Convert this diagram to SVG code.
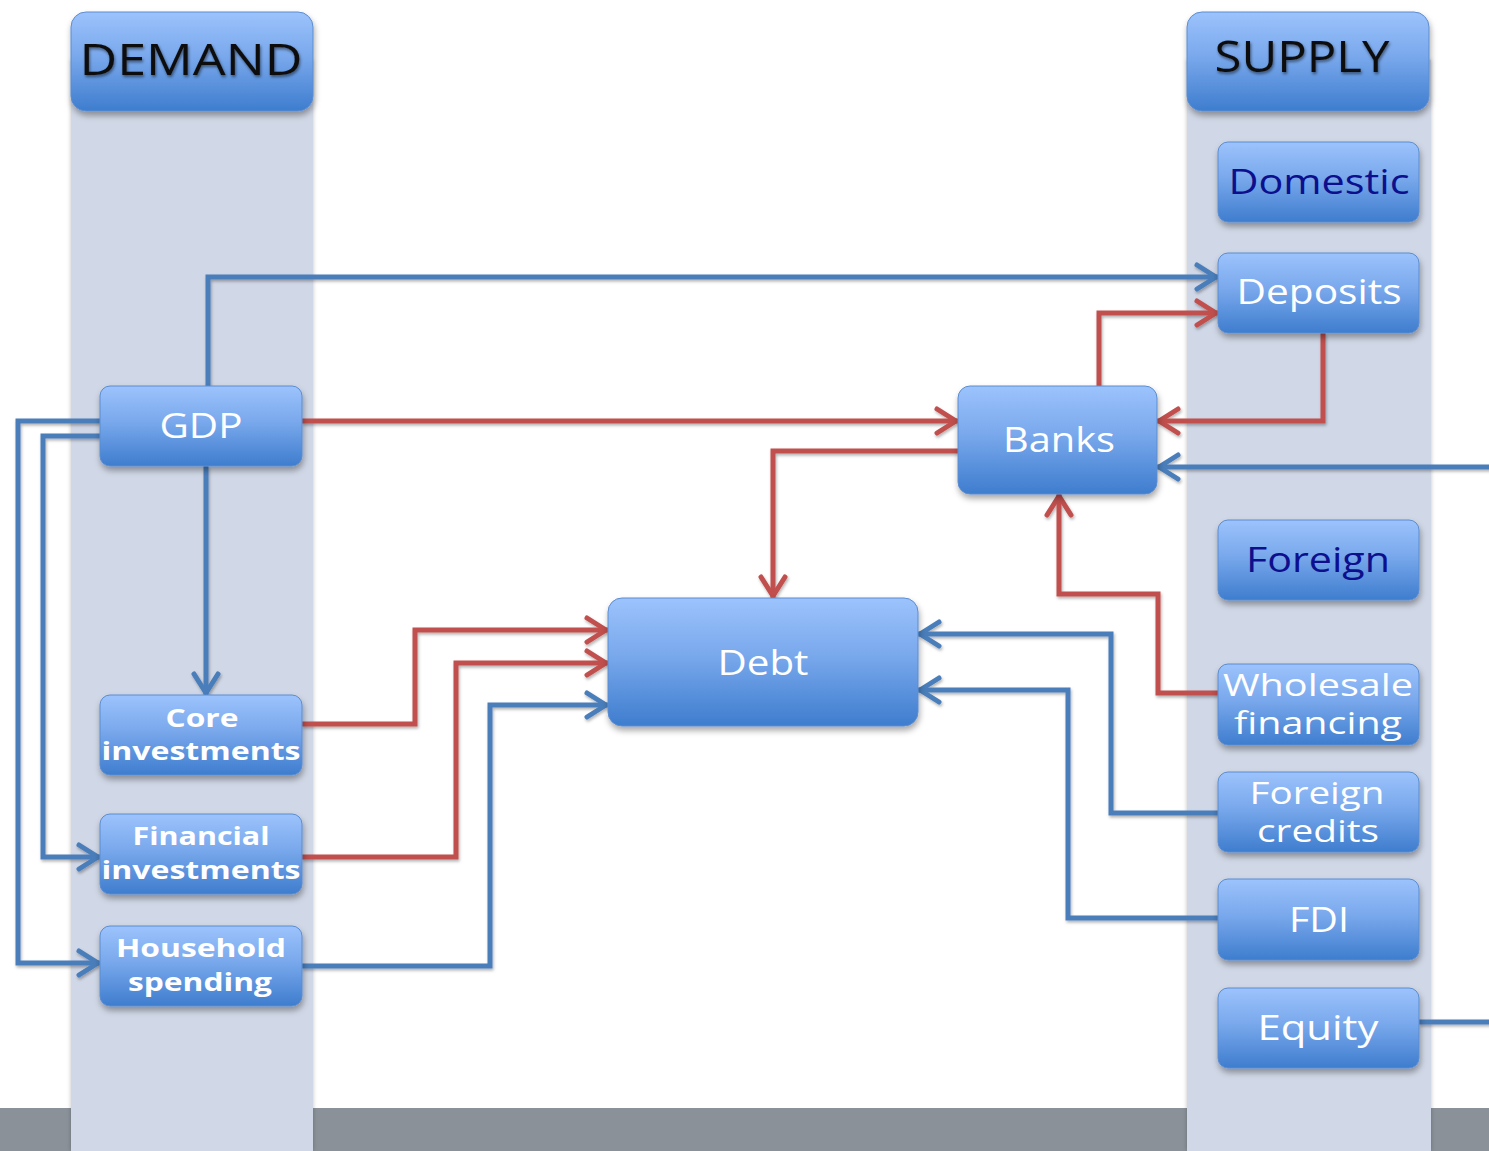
<svg xmlns="http://www.w3.org/2000/svg" width="1489" height="1151" viewBox="0 0 1489 1151">
<defs>
<linearGradient id="g" x1="0" y1="0" x2="0" y2="1">
<stop offset="0" stop-color="#9cc3fc"/>
<stop offset="0.45" stop-color="#79a8ec"/>
<stop offset="1" stop-color="#3e7dce"/>
</linearGradient>
<filter id="sh" x="-10%" y="-10%" width="130%" height="140%">
<feDropShadow dx="1" dy="4" stdDeviation="3" flood-color="#000" flood-opacity="0.35"/>
</filter>
<filter id="lsh" x="-5%" y="-5%" width="110%" height="110%">
<feDropShadow dx="1" dy="2" stdDeviation="1.5" flood-color="#000" flood-opacity="0.3"/>
</filter>
<filter id="tsh" x="-10%" y="-20%" width="120%" height="150%">
<feDropShadow dx="1" dy="2" stdDeviation="1.5" flood-color="#000" flood-opacity="0.5"/>
</filter>
<filter id="bsh" x="-20%" y="-5%" width="140%" height="110%">
<feDropShadow dx="0" dy="0" stdDeviation="2" flood-color="#000" flood-opacity="0.25"/>
</filter>
<marker id="ab" viewBox="-26 -16 30 32" markerWidth="30" markerHeight="32" refX="0" refY="0" orient="auto" markerUnits="userSpaceOnUse">
<path d="M-21 -12 L-2 0 L-21 12" fill="none" stroke="#4a7ebb" stroke-width="5" stroke-linecap="round" stroke-linejoin="round"/>
</marker>
<marker id="ar" viewBox="-26 -16 30 32" markerWidth="30" markerHeight="32" refX="0" refY="0" orient="auto" markerUnits="userSpaceOnUse">
<path d="M-21 -12 L-2 0 L-21 12" fill="none" stroke="#c0504d" stroke-width="5" stroke-linecap="round" stroke-linejoin="round"/>
</marker>
</defs>
<style>
.band{fill:#d0d7e6}
.box{fill:url(#g);stroke:#5b8cd0;stroke-width:1;filter:url(#sh)}
.hd{font-family:"Open Sans","DejaVu Sans",sans-serif;font-size:44px;fill:#111;text-anchor:middle;filter:url(#tsh)}
.t{font-family:"Open Sans","DejaVu Sans",sans-serif;font-size:35px;fill:#fff;text-anchor:middle}
.t2{font-family:"Open Sans","DejaVu Sans",sans-serif;font-size:31px;fill:#fff;text-anchor:middle}
.tn{font-family:"Open Sans","DejaVu Sans",sans-serif;font-size:35px;fill:#0d0f8c;text-anchor:middle}
.tb{font-family:"Open Sans","DejaVu Sans",sans-serif;font-size:25px;font-weight:bold;fill:#fff;text-anchor:middle}
.cb{fill:none;stroke:#4a7ebb;stroke-width:5;marker-end:url(#ab)}
.cbn{fill:none;stroke:#4a7ebb;stroke-width:5}
.cr{fill:none;stroke:#c0504d;stroke-width:5;marker-end:url(#ar)}
</style>
<rect x="0" y="0" width="1489" height="1151" fill="#fff"/>
<rect x="0" y="1108" width="1489" height="43" fill="#8a9199"/>
<rect class="band" x="71" y="60" width="242" height="1091" filter="url(#bsh)"/>
<rect class="band" x="1187" y="60" width="244" height="1091" filter="url(#bsh)"/>

<g id="connectors" filter="url(#lsh)">
<path class="cb" d="M208 386 V277 H1218"/>
<path class="cb" d="M100 421 H18 V963 H100"/>
<path class="cb" d="M100 436 H43 V857 H100"/>
<path class="cb" d="M206 466 V695"/>
<path class="cb" d="M302 966 H490 V705 H608"/>
<path class="cb" d="M1218 813 H1111 V634 H918"/>
<path class="cb" d="M1218 918 H1068 V690 H918"/>
<path class="cbn" d="M1419 1022 H1495"/>
<path class="cb" d="M1495 467 H1157"/>
<path class="cr" d="M302 421 H958"/>
<path class="cr" d="M1099 386 V313 H1218"/>
<path class="cr" d="M1323 333 V421 H1157"/>
<path class="cr" d="M958 451 H773 V598"/>
<path class="cr" d="M1218 693 H1158 V594 H1059 V494"/>
<path class="cr" d="M302 724 H415 V630 H608"/>
<path class="cr" d="M302 857 H456 V663 H608"/>
</g>

<g id="demand">
<rect class="box" x="71" y="12" width="242" height="99" rx="15"/>
<text class="hd" x="191" y="75" textLength="223" lengthAdjust="spacingAndGlyphs">DEMAND</text>
</g>
<g id="supply">
<rect class="box" x="1187" y="12" width="242" height="99" rx="15"/>
<text class="hd" x="1302" y="72" textLength="175" lengthAdjust="spacingAndGlyphs">SUPPLY</text>
</g>
<g id="domestic">
<rect class="box" x="1218" y="142" width="201" height="80" rx="10"/>
<text class="tn" x="1319" y="194" textLength="181" lengthAdjust="spacingAndGlyphs">Domestic</text>
</g>
<g id="deposits">
<rect class="box" x="1218" y="253" width="201" height="80" rx="10"/>
<text class="t" x="1319" y="304" textLength="165" lengthAdjust="spacingAndGlyphs">Deposits</text>
</g>
<g id="foreign">
<rect class="box" x="1218" y="520" width="201" height="80" rx="10"/>
<text class="tn" x="1318" y="572" textLength="144" lengthAdjust="spacingAndGlyphs">Foreign</text>
</g>
<g id="wholesale">
<rect class="box" x="1218" y="664" width="201" height="81" rx="10"/>
<text class="t2" x="1318" y="696" textLength="190" lengthAdjust="spacingAndGlyphs">Wholesale</text>
<text class="t2" x="1318" y="734" textLength="168" lengthAdjust="spacingAndGlyphs">financing</text>
</g>
<g id="foreign-credits">
<rect class="box" x="1218" y="772" width="201" height="80" rx="10"/>
<text class="t2" x="1317" y="804" textLength="135" lengthAdjust="spacingAndGlyphs">Foreign</text>
<text class="t2" x="1318" y="842" textLength="122" lengthAdjust="spacingAndGlyphs">credits</text>
</g>
<g id="fdi">
<rect class="box" x="1218" y="879" width="201" height="81" rx="10"/>
<text class="t" x="1319" y="932" textLength="60" lengthAdjust="spacingAndGlyphs">FDI</text>
</g>
<g id="equity">
<rect class="box" x="1218" y="988" width="201" height="80" rx="10"/>
<text class="t" x="1318" y="1040" textLength="121" lengthAdjust="spacingAndGlyphs">Equity</text>
</g>
<g id="gdp">
<rect class="box" x="100" y="386" width="202" height="80" rx="10"/>
<text class="t" x="201" y="438" textLength="83" lengthAdjust="spacingAndGlyphs">GDP</text>
</g>
<g id="core">
<rect class="box" x="100" y="695" width="202" height="80" rx="10"/>
<text class="tb" x="202" y="727" textLength="73" lengthAdjust="spacingAndGlyphs">Core</text>
<text class="tb" x="201" y="760" textLength="199" lengthAdjust="spacingAndGlyphs">investments</text>
</g>
<g id="financial">
<rect class="box" x="100" y="814" width="202" height="80" rx="10"/>
<text class="tb" x="201" y="845" textLength="137" lengthAdjust="spacingAndGlyphs">Financial</text>
<text class="tb" x="201" y="879" textLength="199" lengthAdjust="spacingAndGlyphs">investments</text>
</g>
<g id="household">
<rect class="box" x="100" y="926" width="202" height="80" rx="10"/>
<text class="tb" x="201" y="957" textLength="170" lengthAdjust="spacingAndGlyphs">Household</text>
<text class="tb" x="200" y="991" textLength="144" lengthAdjust="spacingAndGlyphs">spending</text>
</g>
<g id="banks">
<rect class="box" x="958" y="386" width="199" height="108" rx="12"/>
<text class="t" x="1059" y="452" textLength="112" lengthAdjust="spacingAndGlyphs">Banks</text>
</g>
<g id="debt">
<rect class="box" x="608" y="598" width="310" height="128" rx="14"/>
<text class="t" x="763" y="675" textLength="91" lengthAdjust="spacingAndGlyphs">Debt</text>
</g>
</svg>
